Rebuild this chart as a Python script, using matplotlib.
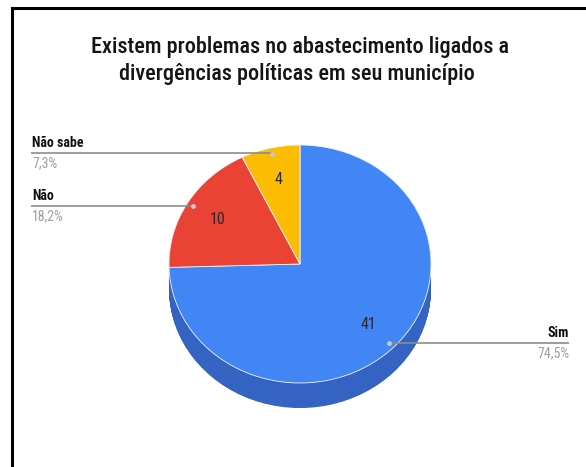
import numpy as np
import matplotlib
matplotlib.use('Agg')
import matplotlib.pyplot as plt
from matplotlib.lines import Line2D

# ---- data ----
categories = ['Sim', 'Não', 'Não sabe']
counts = [41, 10, 4]
percent_labels = ['74,5%', '18,2%', '7,3%']
title_lines = ['Existem problemas no abastecimento ligados a',
               'divergências políticas em seu município']

top_colors = ['#4285F4', '#EA4335', '#FBBC04']
side_colors = ['#3463C4', '#B5362B', '#C79504']

FONT = ['Roboto Condensed', 'Liberation Sans', 'DejaVu Sans']

W, H = 586, 467
fig = plt.figure(figsize=(W / 100, H / 100), dpi=100)
fig.patch.set_facecolor('white')

# overlay axes in pixel coordinates
ov = fig.add_axes([0, 0, 1, 1], zorder=3)
ov.set_xlim(0, W)
ov.set_ylim(H, 0)
ov.axis('off')
ov.patch.set_alpha(0)

# frame lines (left and top)
fig.add_artist(Line2D([12 / W, 12 / W], [0, 1 - 8 / H], color='black', lw=2.2,
                      transform=fig.transFigure))
fig.add_artist(Line2D([12 / W, 1], [1 - 8 / H, 1 - 8 / H], color='black', lw=2.2,
                      transform=fig.transFigure))

# title
ov.text(300, 53, title_lines[0], ha='center', va='baseline', family=FONT,
        fontsize=16, fontweight='medium', color='#141414')
ov.text(297, 80, title_lines[1], ha='center', va='baseline', family=FONT,
        fontsize=16, fontweight='medium', color='#141414')

# ---- pie geometry ----
cx, cy, rx, ry, depth = 300, 264, 131, 119, 25
m = 1.3
x0, x1 = cx - m * rx, cx + m * rx
ytop, ybot = cy - m * ry, cy + m * ry + depth
pax = fig.add_axes([x0 / W, 1 - ybot / H, (x1 - x0) / W, (ybot - ytop) / H], zorder=2)
d = depth / ry
nsteps = 50
for k in range(nsteps, 0, -1):
    pax.pie(counts, colors=side_colors, startangle=90, counterclock=False,
            center=(0, -d * k / nsteps), radius=1, wedgeprops=dict(linewidth=0))
pax.pie(counts, colors=top_colors, startangle=90, counterclock=False,
        center=(0, 0), radius=1,
        wedgeprops=dict(edgecolor='#f4f6fb', linewidth=0.6))
pax.set_xlim(-m, m)
pax.set_ylim(-m - d, m)
pax.set_aspect('auto')
pax.axis('off')

total = float(sum(counts))
cum = np.cumsum([0] + counts[:-1])
mid_angles = np.deg2rad(90 - 360 * (cum + np.array(counts) / 2) / total)

# value labels inside slices
for a, v in zip(mid_angles, counts):
    pax.text(0.73 * np.cos(a), 0.73 * np.sin(a), str(v), ha='center', va='center',
             family=FONT, fontsize=11.5, color='#2a2a2a')

# leader lines and outside labels
label_x_left, label_x_right = 32, 569
label_line_y = {'Sim': 343, 'Não': 206, 'Não sabe': 153}
for name, pct, a in zip(categories, percent_labels, mid_angles):
    px = cx + 0.95 * rx * np.cos(a)
    py = cy - 0.95 * ry * np.sin(a)
    ly = label_line_y[name]
    if np.cos(a) < 0:
        ov.plot([label_x_left - 1, px], [ly, ly], color='#8c8c8c', lw=1.2, solid_capstyle='butt')
        ov.text(label_x_left, ly - 3, name, ha='left', va='bottom', family=FONT,
                fontsize=10, fontweight='bold', color='#111111')
        ov.text(label_x_left, ly + 3, pct, ha='left', va='top', family=FONT,
                fontsize=10, color='#9e9e9e')
    else:
        ov.plot([px, label_x_right], [ly, ly], color='#8c8c8c', lw=1.2, solid_capstyle='butt')
        ov.text(label_x_right, ly - 3, name, ha='right', va='bottom', family=FONT,
                fontsize=10, fontweight='bold', color='#111111')
        ov.text(label_x_right, ly + 3, pct, ha='right', va='top', family=FONT,
                fontsize=10, color='#9e9e9e')
    ov.plot([px], [py], 'o', ms=3.5, color='#c8c8c8', mec='none')

fig.savefig('out.png', dpi=100, facecolor='white')
